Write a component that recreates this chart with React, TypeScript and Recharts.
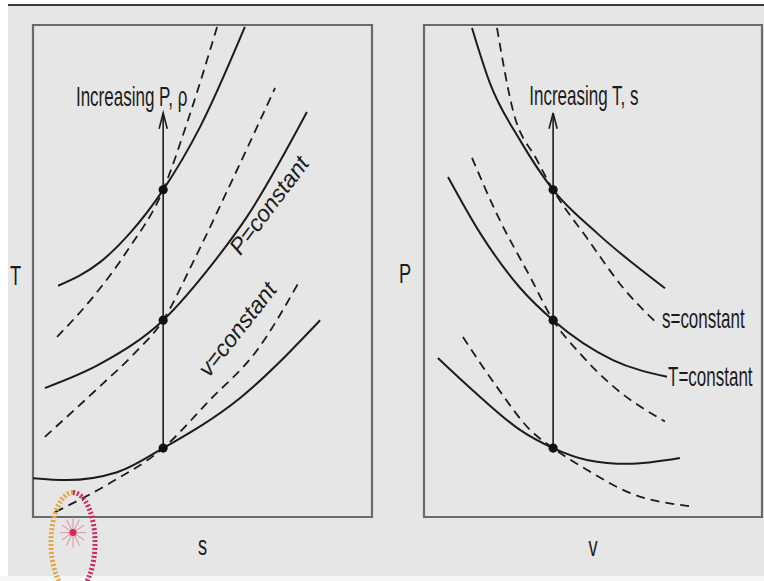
import React from 'react';
import { ComposedChart, Line, Scatter, XAxis, YAxis, ReferenceArea, ReferenceDot } from 'recharts';

type P = [number, number];

// ---------- T-s diagram (arbitrary units 0..100) ----------
const tsPconst1: P[] = [[7.4, 47.0], [19.8, 51.8], [28.6, 57.7], [38.4, 66.5], [49.3, 79.3], [62.5, 99.6]];
const tsPconst2: P[] = [[3.5, 26.2], [19.8, 31.1], [38.4, 40.0], [53.1, 51.6], [63.1, 61.0], [80.8, 82.3]];
const tsPconst3: P[] = [[0, 7.9], [10, 7.5], [24.8, 9.1], [38.4, 14.0], [61.1, 24.2], [84.7, 40.0]];
const tsVconst1: P[] = [[7.1, 36.6], [17.7, 44.7], [28.0, 54.3], [38.4, 66.5], [45.4, 80.0], [54.3, 99.6]];
const tsVconst2: P[] = [[3.5, 16.3], [19.8, 26.6], [30, 33.3], [38.4, 40.0], [47, 51.5], [59, 68.8], [71.4, 87.2]];
const tsVconst3: P[] = [[6.5, 1.0], [22.7, 6.9], [38.4, 14.0], [52.2, 23.8], [66.1, 33.9], [78.8, 48.2]];
const tsStateX = 38.4;
const tsStates: number[] = [14.0, 40.0, 66.5];
const tsArrowTop = 82.1;

// ---------- P-v diagram (arbitrary units 0..100) ----------
const pvTconst1: P[] = [[14.2, 99.4], [19.5, 88.2], [28.4, 76.6], [38.2, 66.5], [51.2, 57.7], [71.3, 46.5]];
const pvTconst2: P[] = [[7.1, 69.1], [16.6, 57.7], [28.4, 46.6], [38.2, 40.0], [55.9, 31.9], [71.9, 28.5]];
const pvTconst3: P[] = [[4.1, 32.3], [16.6, 24.4], [28.4, 17.7], [38.2, 14.0], [48.2, 11.6], [60.1, 10.8], [75.7, 12.0]];
const pvSconst1: P[] = [[21.6, 99.4], [26.3, 82.7], [33.4, 72.6], [38.2, 66.5], [48.2, 56.7], [59.5, 46.1], [68.9, 39.4]];
const pvSconst2: P[] = [[14.2, 73.0], [21.6, 61.5], [31.4, 48.8], [38.2, 40.0], [46.2, 33.2], [55.9, 26.6], [71.3, 19.4]];
const pvSconst3: P[] = [[11.5, 36.6], [21.6, 26.4], [31.4, 17.7], [38.2, 14.0], [48.2, 9.6], [60.9, 4.9], [78.7, 2.2]];
const pvStateX = 38.2;
const pvStates: number[] = [14.0, 40.0, 66.5];
const pvArrowTop = 82.1;

const FONT = '"Liberation Sans", Arial, Helvetica, sans-serif';
const INK = '#1c1c1c';
const BG = '#e6e6e6';

const toPts = (a: P[]) => a.map(([x, y]) => ({ x, y }));

const textShape = (
  text: string,
  anchor: 'start' | 'middle' | 'end',
  opts: { size?: number; sx?: number; rotate?: number; italic?: boolean; dy?: string } = {}
) => (p: any) => {
  const { size = 27, sx = 0.63, rotate = 0, italic = false, dy = '0' } = opts;
  return (
    <text
      transform={`translate(${p.cx},${p.cy}) rotate(${rotate}) scale(${sx},1)`}
      textAnchor={anchor}
      fontSize={size}
      fontFamily={FONT}
      fontStyle={italic ? 'italic' : 'normal'}
      fill={INK}
      dy={dy}
    >
      {text}
    </text>
  );
};

const axisLabel = (text: string, dx: number, dy: number, fx: number, fy: number) => (props: any) => {
  const vb = props && props.viewBox;
  const cx = vb && vb.width !== undefined ? vb.x + vb.width / 2 : fx;
  const cy = vb && vb.height !== undefined ? vb.y + vb.height / 2 : fy;
  return (
    <text
      transform={`translate(${cx + dx},${cy + dy}) scale(0.65,1)`}
      textAnchor="middle"
      fontSize={28}
      fontFamily={FONT}
      fill={INK}
    >
      {text}
    </text>
  );
};

const dotShape = (p: any) => <circle cx={p.cx} cy={p.cy} r={4.6} fill="#111" />;

const logoShape = (p: any) => {
  const cx = p.cx;
  const cy = p.cy;
  const spokes = [0, 30, 60, 90, 120, 150];
  return (
    <g>
      <path d={`M ${cx} ${cy - 50} A 22 50 0 0 0 ${cx} ${cy + 50}`} fill="none" stroke="#e3a545" strokeWidth={5} strokeDasharray="2 2" />
      <path d={`M ${cx} ${cy - 50} A 22 50 0 0 1 ${cx} ${cy + 50}`} fill="none" stroke="#d2275a" strokeWidth={5} strokeDasharray="2 2" />
      {spokes.map((a) => {
        const r = (a * Math.PI) / 180;
        return (
          <line key={a} x1={cx - 13 * Math.cos(r)} y1={cy - 10 - 15 * Math.sin(r)} x2={cx + 13 * Math.cos(r)} y2={cy - 10 + 15 * Math.sin(r)} stroke="#e0a0b0" strokeWidth={1.2} />
        );
      })}
      <circle cx={cx} cy={cy - 10} r={3.5} fill="#d2275a" />
    </g>
  );
};

const solid = (key: string, d: P[]) => (
  <Line key={key} data={toPts(d)} dataKey="y" type="monotone" stroke={INK} strokeWidth={2} dot={false} isAnimationActive={false} />
);
const dashed = (key: string, d: P[]) => (
  <Line key={key} data={toPts(d)} dataKey="y" type="monotone" stroke={INK} strokeWidth={1.8} strokeDasharray="9 6" dot={false} isAnimationActive={false} />
);

const arrow = (xv: number, yb: number, yt: number) => [
  <Line key="stem" data={[{ x: xv, y: yb }, { x: xv, y: yt }]} dataKey="y" type="linear" stroke={INK} strokeWidth={1.6} dot={false} isAnimationActive={false} />,
  <Line key="head" data={[{ x: xv - 1.2, y: yt - 3.2 }, { x: xv, y: yt }, { x: xv + 1.2, y: yt - 3.2 }]} dataKey="y" type="linear" stroke={INK} strokeWidth={1.6} dot={false} isAnimationActive={false} />,
];

export default function App() {
  return (
    <div style={{ position: 'absolute', left: 0, top: 0, width: 764, height: 581, backgroundColor: BG, overflow: 'hidden' }}>
      <div style={{ position: 'absolute', left: 0, top: 0, width: 8, height: 581, backgroundColor: '#ffffff' }} />
      <div style={{ position: 'absolute', left: 0, top: 0, width: 764, height: 4, backgroundColor: '#ffffff' }} />
      <div style={{ position: 'absolute', left: 0, top: 576, width: 764, height: 5, backgroundColor: '#f6f6f6' }} />
      <div style={{ position: 'absolute', left: 8, top: 4, width: 756, height: 2, backgroundColor: '#3a3a3a' }} />
      <div style={{ position: 'absolute', left: 0, top: 0 }}>
        <ComposedChart width={380} height={581} margin={{ top: 25, right: 8, bottom: 0, left: 0 }}>
          <XAxis type="number" dataKey="x" domain={[0, 100]} allowDataOverflow tick={false} tickLine={false} axisLine={false} height={64} label={axisLabel('s', 0, 6, 202, 549)} />
          <YAxis type="number" dataKey="y" domain={[0, 100]} allowDataOverflow tick={false} tickLine={false} axisLine={false} width={33} label={axisLabel('T', -1, 14, 16, 271)} />
          <ReferenceArea x1={0} x2={100} y1={0} y2={100} fill="none" fillOpacity={0} stroke="#6a6a6a" strokeWidth={2.2} ifOverflow="visible" />
          {solid('p1', tsPconst1)}
          {solid('p2', tsPconst2)}
          {solid('p3', tsPconst3)}
          {dashed('v1', tsVconst1)}
          {dashed('v2', tsVconst2)}
          {dashed('v3', tsVconst3)}
          {arrow(tsStateX, tsStates[0], tsArrowTop)}
          <Scatter data={tsStates.map((y) => ({ x: tsStateX, y }))} shape={dotShape} isAnimationActive={false} />
          <ReferenceDot x={29.1} y={83.5} r={0} ifOverflow="visible" shape={textShape('Increasing P, ρ', 'middle')} />
          <ReferenceDot x={69.6} y={63.4} r={0} ifOverflow="visible" shape={textShape('P=constant', 'middle', { size: 23, sx: 1, rotate: -53, italic: true, dy: '0.35em' })} />
          <ReferenceDot x={60.2} y={38.2} r={0} ifOverflow="visible" shape={textShape('v=constant', 'middle', { size: 23, sx: 1, rotate: -52, italic: true, dy: '0.35em' })} />
          <ReferenceDot x={11.8} y={-5.2} r={0} ifOverflow="visible" shape={logoShape} />
        </ComposedChart>
      </div>
      <div style={{ position: 'absolute', left: 380, top: 0 }}>
        <ComposedChart width={384} height={581} margin={{ top: 25, right: 2, bottom: 0, left: 0 }}>
          <XAxis type="number" dataKey="x" domain={[0, 100]} allowDataOverflow tick={false} tickLine={false} axisLine={false} height={64} label={axisLabel('v', 0, 7, 213, 549)} />
          <YAxis type="number" dataKey="y" domain={[0, 100]} allowDataOverflow tick={false} tickLine={false} axisLine={false} width={44} label={axisLabel('P', 3, 12, 22, 271)} />
          <ReferenceArea x1={0} x2={100} y1={0} y2={100} fill="none" fillOpacity={0} stroke="#6a6a6a" strokeWidth={2.2} ifOverflow="visible" />
          {solid('t1', pvTconst1)}
          {solid('t2', pvTconst2)}
          {solid('t3', pvTconst3)}
          {dashed('s1', pvSconst1)}
          {dashed('s2', pvSconst2)}
          {dashed('s3', pvSconst3)}
          {arrow(pvStateX, pvStates[0], pvArrowTop)}
          <Scatter data={pvStates.map((y) => ({ x: pvStateX, y }))} shape={dotShape} isAnimationActive={false} />
          <ReferenceDot x={47.3} y={83.7} r={0} ifOverflow="visible" shape={textShape('Increasing T, s', 'middle')} />
          <ReferenceDot x={70.4} y={38.4} r={0} ifOverflow="visible" shape={textShape('s=constant', 'start')} />
          <ReferenceDot x={72.2} y={26.6} r={0} ifOverflow="visible" shape={textShape('T=constant', 'start')} />
        </ComposedChart>
      </div>
    </div>
  );
}
